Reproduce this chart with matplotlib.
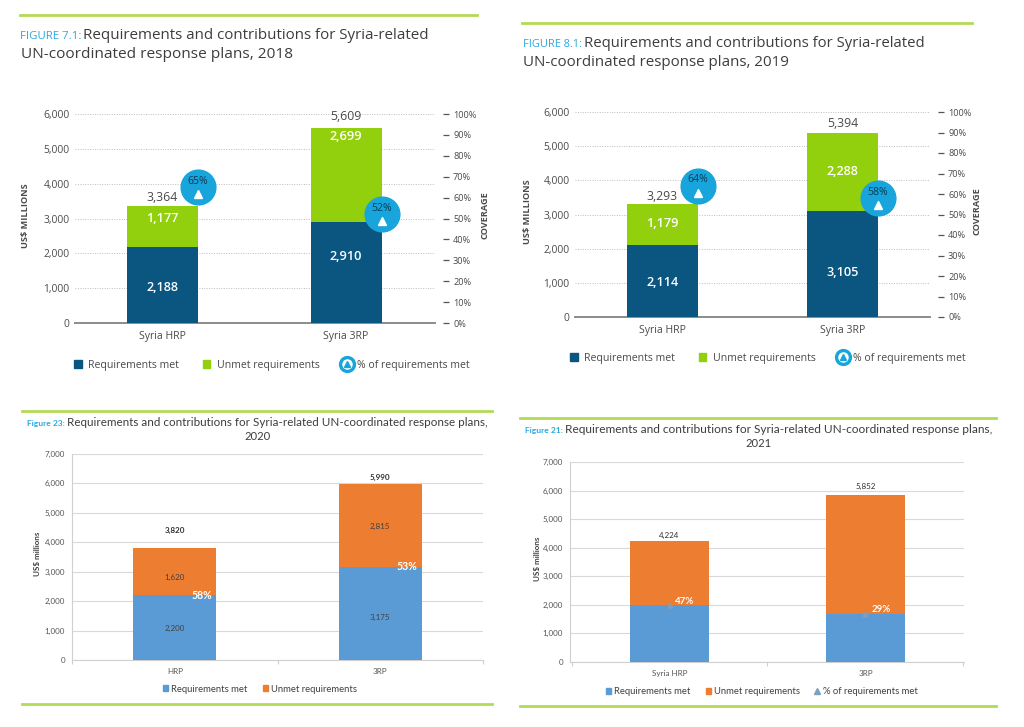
import matplotlib
matplotlib.use("Agg")
import matplotlib.pyplot as plt
from matplotlib.lines import Line2D
from matplotlib.patches import Patch
from matplotlib.legend_handler import HandlerTuple
import matplotlib.transforms as mtrans

W, H = 1024, 727

# ---------------- data ----------------
cats_2018 = ["Syria HRP", "Syria 3RP"]
met_2018 = [2188, 2910]
unmet_2018 = [1177, 2699]
total_2018 = [3364, 5609]
pct_2018 = [65, 52]

cats_2019 = ["Syria HRP", "Syria 3RP"]
met_2019 = [2114, 3105]
unmet_2019 = [1179, 2288]
total_2019 = [3293, 5394]
pct_2019 = [64, 58]

cats_2020 = ["HRP", "3RP"]
met_2020 = [2200, 3175]
unmet_2020 = [1620, 2815]
total_2020 = [3820, 5990]
pct_2020 = [58, 53]

cats_2021 = ["Syria HRP", "3RP"]
met_2021 = [1985, 1697]
unmet_2021 = [2239, 4155]
total_2021 = [4224, 5852]
pct_2021 = [47, 29]

# ---------------- style ----------------
DARK = "#0b5581"
LIME = "#92cf0c"
CYAN = "#17a5dc"
NAVY_TXT = "#0d3a58"
GRAY = "#4a4a4a"
BLUE = "#5b9bd5"
ORANGE = "#ed7d31"
SEP = "#b2db55"
PREFIX = "#2aa8e0"
TOPFONT = "Open Sans"
BOTFONT = "Lato"

fig = plt.figure(figsize=(W / 100, H / 100), dpi=100)
fig.patch.set_facecolor("white")


def rect(x0, y0, x1, y1):
    return [x0 / W, 1 - y1 / H, (x1 - x0) / W, (y1 - y0) / H]


def fx(x):
    return x / W


def fy(y):
    return 1 - y / H


def sep_line(x0, x1, y):
    fig.add_artist(Line2D([fx(x0), fx(x1)], [fy(y), fy(y)], color=SEP, lw=2,
                          transform=fig.transFigure))


fits = []


def ftext(x, y, s, width=None, **kw):
    t = fig.text(fx(x), fy(y), s, transform=fig.transFigure, **kw)
    if width is not None:
        fits.append((t, width))
    return t


def fmt(v):
    return f"{v:,}"


# ---------------- top panels (2018, 2019) ----------------
def top_panel(box, xlim, bw, cats, met, unmet, total, pct,
              met_y, unmet_y, tot_y, ylab_x, cov_x, leg_xy):
    ax = fig.add_axes(rect(*box))
    x = list(range(len(cats)))
    ax.bar(x, met, bw, color=DARK, zorder=3)
    ax.bar(x, unmet, bw, bottom=met, color=LIME, zorder=3)
    ax.set_xlim(*xlim)
    ax.set_ylim(0, 6000)
    ax.set_yticks(range(0, 6001, 1000))
    ax.set_yticklabels([fmt(v) for v in range(0, 6001, 1000)])
    ax.set_xticks(x)
    ax.set_xticklabels(cats)
    for s in ["left", "right", "top"]:
        ax.spines[s].set_visible(False)
    ax.spines["bottom"].set_color("#8c8c8c")
    ax.spines["bottom"].set_linewidth(1.4)
    ax.grid(axis="y", color="#bdbdbd", ls=(0, (1, 1.5)), lw=0.7, zorder=0)
    ax.tick_params(axis="y", length=0, pad=4, labelsize=7.4, labelcolor=GRAY)
    ax.tick_params(axis="x", length=0, pad=6, labelsize=7.6, labelcolor=GRAY)
    for lab in ax.get_xticklabels() + ax.get_yticklabels():
        lab.set_family(TOPFONT)
    for i in x:
        ax.text(i, met_y[i], fmt(met[i]), ha="center", va="center", color="white",
                fontsize=9.2, family=TOPFONT, fontweight="semibold", zorder=5)
        ax.text(i, unmet_y[i], fmt(unmet[i]), ha="center", va="center", color="white",
                fontsize=9.2, family=TOPFONT, fontweight="semibold", zorder=5)
        ax.text(i, tot_y[i], fmt(total[i]), ha="center", va="center", color=GRAY,
                fontsize=8.8, family=TOPFONT, zorder=5)

    ax2 = ax.twinx()
    ax2.set_ylim(0, 100)
    ax2.set_yticks(range(0, 101, 10))
    ax2.set_yticklabels([f"{v}%" for v in range(0, 101, 10)])
    for s in ["left", "right", "top", "bottom"]:
        ax2.spines[s].set_visible(False)
    ax2.spines["right"].set_position(("outward", 6))
    ax2.tick_params(axis="y", length=4.5, width=0.9, color="#555555", pad=2.5,
                    labelsize=6.6, labelcolor=GRAY)
    for lab in ax2.get_yticklabels():
        lab.set_family(TOPFONT)
    up = mtrans.offset_copy(ax2.transData, fig=fig, x=0, y=4.2, units="points")
    dn = mtrans.offset_copy(ax2.transData, fig=fig, x=0, y=-5.0, units="points")
    for i in x:
        cx = i + bw / 2
        ax2.plot([cx], [pct[i]], marker="o", ms=25, color=CYAN, ls="",
                 zorder=6, clip_on=False)
        ax2.text(cx, pct[i], f"{pct[i]}%", transform=up, ha="center", va="center",
                 color=NAVY_TXT, fontsize=7.6, family=TOPFONT, zorder=7)
        ax2.plot([cx], [pct[i]], marker="^", ms=6, color="white", ls="",
                 transform=dn, zorder=7, clip_on=False)

    ftext(ylab_x, (box[1] + box[3]) / 2 - 3, "US$ MILLIONS", rotation=90, ha="center",
          va="center", fontsize=6.6, fontweight="bold", color=GRAY, family=TOPFONT)
    ftext(cov_x, (box[1] + box[3]) / 2 - 3, "COVERAGE", rotation=90, ha="center",
          va="center", fontsize=6.6, fontweight="bold", color=GRAY, family=TOPFONT)

    ring = (Line2D([], [], marker="o", ms=10, mfc="white", mec=CYAN, mew=2.4, ls=""),
            Line2D([], [], marker="^", ms=4, color=CYAN, ls=""))
    handles = [Patch(color=DARK), Patch(color=LIME), ring]
    labels = ["Requirements met", "Unmet requirements", "% of requirements met"]
    leg = fig.legend(handles, labels, loc="center", bbox_to_anchor=(fx(leg_xy[0]), fy(leg_xy[1])),
                     ncol=3, frameon=False, fontsize=7.6, handlelength=0.75, handleheight=0.75,
                     handletextpad=0.6, columnspacing=2.2,
                     handler_map={tuple: HandlerTuple(ndivide=1, pad=0)})
    for t in leg.get_texts():
        t.set_color(GRAY)
        t.set_family(TOPFONT)
    return ax


# 2018
sep_line(20, 477, 15)
ftext(20, 39, "FIGURE 7.1:", width=61, color=PREFIX, fontsize=8, family=TOPFONT, va="baseline")
ftext(83, 39, "Requirements and contributions for Syria-related", width=347,
      color="#3d3d3d", fontsize=11, family=TOPFONT, va="baseline")
ftext(21, 58, "UN-coordinated response plans, 2018", width=271,
      color="#3d3d3d", fontsize=11, family=TOPFONT, va="baseline")
top_panel((75, 114, 435, 323), (-0.477, 1.485), 0.387, cats_2018, met_2018, unmet_2018,
          total_2018, pct_2018, [1033, 1923], [3014, 5340], [3617, 5914],
          25, 485, (272, 365))

# 2019
sep_line(522, 972, 23)
ftext(523, 47, "FIGURE 8.1:", width=59, color=PREFIX, fontsize=8, family=TOPFONT, va="baseline")
ftext(584, 47, "Requirements and contributions for Syria-related", width=341,
      color="#3d3d3d", fontsize=11, family=TOPFONT, va="baseline")
ftext(523, 66, "UN-coordinated response plans, 2019", width=266,
      color="#3d3d3d", fontsize=11, family=TOPFONT, va="baseline")
top_panel((575, 112, 930, 317), (-0.486, 1.486), 0.394, cats_2019, met_2019, unmet_2019,
          total_2019, pct_2019, [1024, 1317], [2751, 4244], [3541, 5649],
          527, 977, (768, 358))


# ---------------- bottom panels (2020, 2021) ----------------
def bottom_panel(box, xlim, bw, cats, met, unmet, total, met_lbl, unmet_lbl, tot_y,
                 ylab_x, bold_total):
    ax = fig.add_axes(rect(*box))
    x = list(range(len(cats)))
    ax.bar(x, met, bw, color=BLUE, zorder=3)
    ax.bar(x, unmet, bw, bottom=met, color=ORANGE, zorder=3)
    ax.set_xlim(*xlim)
    ax.set_ylim(0, 7000)
    ax.set_yticks(range(0, 7001, 1000))
    ax.set_yticklabels([fmt(v) for v in range(0, 7001, 1000)])
    ax.set_xticks(x)
    ax.set_xticklabels(cats)
    ax.set_xticks([-0.5, 0.5, 1.5], minor=True)
    for s in ["right", "top"]:
        ax.spines[s].set_visible(False)
    for s in ["left", "bottom"]:
        ax.spines[s].set_color("#d0d0d0")
        ax.spines[s].set_linewidth(0.8)
    ax.grid(axis="y", color="#d9d9d9", lw=0.8, zorder=0)
    ax.tick_params(axis="y", length=0, pad=5, labelsize=5.8, labelcolor="#555555")
    ax.tick_params(axis="x", which="major", length=0, pad=6, labelsize=5.8, labelcolor="#555555")
    ax.tick_params(axis="x", which="minor", length=3, color="#d0d0d0", width=0.8)
    for lab in ax.get_xticklabels() + ax.get_yticklabels():
        lab.set_family(BOTFONT)
    for i in x:
        if met_lbl is not None:
            ax.text(i, met_lbl[i], fmt(met[i]), ha="center", va="center", color="#404040",
                    fontsize=5.8, family=BOTFONT, zorder=5)
        if unmet_lbl is not None:
            ax.text(i, unmet_lbl[i], fmt(unmet[i]), ha="center", va="center", color="#404040",
                    fontsize=5.8, family=BOTFONT, zorder=5)
        ax.text(i, tot_y[i], fmt(total[i]), ha="center", va="center", color="#303030",
                fontsize=5.8, family=BOTFONT, zorder=5,
                fontweight="bold" if bold_total else "normal")
    ftext(ylab_x, (box[1] + box[3]) / 2 - 3, "US$ millions", rotation=90, ha="center",
          va="center", fontsize=5.8, fontweight="bold", color="#404040", family=BOTFONT)
    return ax


# 2020
sep_line(22, 492, 411)
sep_line(22, 492, 704)
ftext(27, 426, "Figure 23:", width=38, color=PREFIX, fontsize=6, family=BOTFONT, va="baseline",
      fontweight="bold")
ftext(67, 426, "Requirements and contributions for Syria-related UN-coordinated response plans,",
      width=421, color="#3d3d3d", fontsize=8, family=BOTFONT, va="baseline")
ftext(258, 440, "2020", width=26, color="#3d3d3d", fontsize=8, family=BOTFONT,
      va="baseline", ha="center")
ax3 = bottom_panel((72, 454, 483, 660), (-0.5, 1.5), 0.403, cats_2020, met_2020, unmet_2020,
                   total_2020, [1087, 1461], [2820, 4553], [4417, 6218], 38, True)
for i, p in enumerate(pct_2020):
    ax3.text(i + 0.13, met_2020[i], f"{p}%", ha="center", va="center", color="white",
             fontsize=7.6, fontweight="bold", family=BOTFONT, zorder=6)
leg3 = fig.legend([Patch(color=BLUE), Patch(color=ORANGE)],
                  ["Requirements met", "Unmet requirements"], loc="center",
                  bbox_to_anchor=(fx(260), fy(689)), ncol=2, frameon=False, fontsize=6.8,
                  handlelength=0.55, handleheight=0.55, handletextpad=0.3, columnspacing=1.6)
for t in leg3.get_texts():
    t.set_color("#404040")
    t.set_family(BOTFONT)

# 2021
sep_line(520, 996, 418)
sep_line(520, 996, 706)
ftext(525, 433, "Figure 21:", width=38, color=PREFIX, fontsize=6, family=BOTFONT, va="baseline",
      fontweight="bold")
ftext(565, 433, "Requirements and contributions for Syria-related UN-coordinated response plans,",
      width=427, color="#3d3d3d", fontsize=8, family=BOTFONT, va="baseline")
ftext(758, 447, "2021", width=26, color="#3d3d3d", fontsize=8, family=BOTFONT,
      va="baseline", ha="center")
ax4 = bottom_panel((570, 462, 964, 662), (-0.508, 1.503), 0.403, cats_2021, met_2021, unmet_2021,
                   total_2021, None, None, [4445, 6160], 537, False)
for i, p in enumerate(pct_2021):
    ax4.plot([i], [met_2021[i]], marker="^", ms=3.5, color="#7f9fbf", ls="", zorder=6)
    ax4.text(i + 0.03, met_2021[i] + 150, f"{p}%", ha="left", va="center", color="white",
             fontsize=7.0, fontweight="bold", family=BOTFONT, zorder=6)
tri = Line2D([], [], marker="^", ms=4, color="#7f9fbf", ls="")
leg4 = fig.legend([Patch(color=BLUE), Patch(color=ORANGE), tri],
                  ["Requirements met", "Unmet requirements", "% of requirements met"],
                  loc="center", bbox_to_anchor=(fx(762), fy(692)), ncol=3, frameon=False,
                  fontsize=6.8, handlelength=0.55, handleheight=0.55, handletextpad=0.3,
                  columnspacing=1.6)
for t in leg4.get_texts():
    t.set_color("#404040")
    t.set_family(BOTFONT)

# fit titles to measured widths
fig.canvas.draw()
r = fig.canvas.get_renderer()
for t, wpx in fits:
    bb = t.get_window_extent(r)
    if bb.width > 0:
        t.set_fontsize(t.get_fontsize() * wpx / bb.width)

fig.savefig("out.png", dpi=100, facecolor="white")
